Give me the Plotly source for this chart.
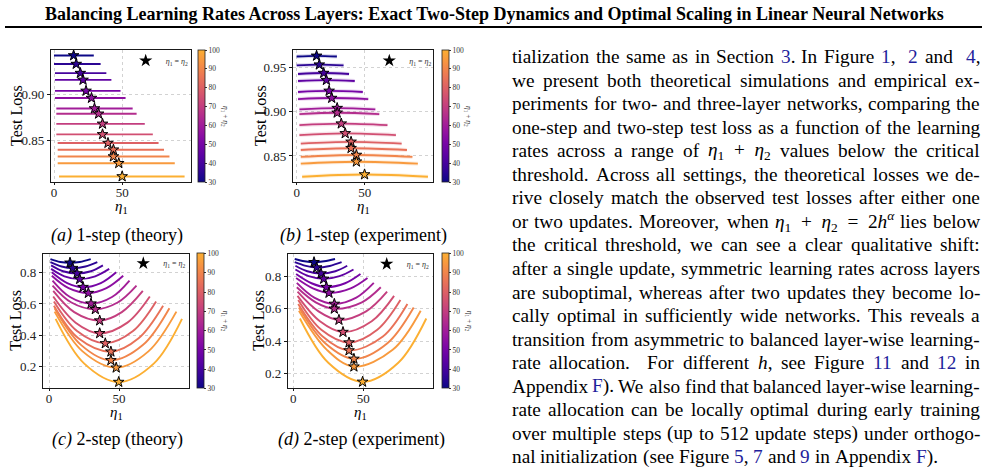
import plotly.graph_objects as go
from plotly.colors import sample_colorscale
import re

FIG_W, FIG_H = 988, 468
SERIF = "Liberation Serif, Times New Roman, Times, serif"
LINK = "#1f1f9c"

# ---------------- data ----------------
SUMS = [30, 35, 40, 45, 50, 55, 60, 65, 70, 75, 80, 85, 90, 95, 100]
CBAR_TICKS = [30, 40, 50, 60, 70, 80, 90, 100]
X_TICKS = [0, 50]

# (a) 1-step (theory): flat lines
A_ETA_START = [0, 0, 0.7, 0.7, 0.7, 0.7, 1.7, 1.7, 1.7, 1.7, 2.7, 2.7, 2.7, 2.7, 3.7]
A_ETA_END = [29.2, 34.2, 38.4, 42.1, 48.8, 52.5, 57.7, 60.6, 66.6, 72.5, 76.7, 80.7, 84.7, 88.6, 95.8]
A_LOSS = [0.9421, 0.9328, 0.9230, 0.9156, 0.9037, 0.8960, 0.8846, 0.8789, 0.8680, 0.8566,
          0.8472, 0.8400, 0.8326, 0.8253, 0.8110]
A_STAR_ETA = [14.4, 16.3, 19.3, 21.3, 23.5, 27.5, 29.7, 32.7, 35.6, 35.6, 39.6, 43.6, 43.6, 47.5, 50.0]
A_YTICKS = [0.85, 0.90]
A_YTEXT = ["0.85", "0.90"]

# (b) 1-step (experiment): slight arcs
B_ETA_START = [0, 0, 1, 1, 1, 1, 2, 2, 2, 2, 3, 3, 3, 3, 4]
B_ETA_END = [29.5, 34.4, 38.4, 42.6, 48.5, 52.5, 57.7, 60.6, 66.6, 72.8, 77.0, 80.9, 84.9, 88.9, 96.3]
B_LOSS_END = [0.9626, 0.9526, 0.9429, 0.9349, 0.9225, 0.9144, 0.9027, 0.8974, 0.8849, 0.8736,
              0.8640, 0.8568, 0.8489, 0.8413, 0.8265]
B_STAR_ETA = [14.6, 16.6, 19.8, 21.8, 23.8, 25.7, 29.7, 29.7, 32.7, 35.6, 39.9, 39.9, 43.8, 43.8, 49.8]
B_STAR_LOSS = [0.9634, 0.9534, 0.9439, 0.9359, 0.9237, 0.9156, 0.9042, 0.8989, 0.8866, 0.8756,
               0.8660, 0.8588, 0.8511, 0.8435, 0.8290]
B_YTICKS = [0.85, 0.90, 0.95]
B_YTEXT = ["0.85", "0.90", "0.95"]

# (c) 2-step (theory): U curves
C_ETA_START = [1, 1, 1.5, 1.5, 2, 2, 2.5, 2.5, 3, 3, 3.5, 3.5, 4, 4, 4.7]
C_ETA_Q1 = [8, 9, 10, 11, 13, 14, 15, 16, 18, 19, 20, 21, 23, 24, 25]
C_ETA_Q3 = [22, 26, 30, 33, 37, 41, 45, 49, 52, 56, 60, 64, 67, 71, 75]
C_ETA_END = [29.8, 34.5, 38.5, 43, 48, 53, 57.5, 62.5, 67, 72, 76.5, 81.5, 86, 91, 95]
C_LOSS_END = [0.885, 0.866, 0.845, 0.823, 0.802, 0.779, 0.749, 0.717, 0.683, 0.647,
              0.615, 0.588, 0.573, 0.551, 0.505]
C_LOSS_Q = [0.867, 0.838, 0.808, 0.776, 0.733, 0.700, 0.644, 0.609, 0.548, 0.481,
            0.427, 0.381, 0.338, 0.298, 0.222]
C_STAR_ETA = [15.0, 16.9, 20.0, 21.9, 24.3, 28.1, 30.0, 33.1, 36.2, 36.2, 40.2, 44.2, 44.2, 48.0, 49.8]
C_STAR_LOSS = [0.862, 0.828, 0.794, 0.758, 0.707, 0.669, 0.602, 0.566, 0.494, 0.413,
               0.349, 0.296, 0.241, 0.194, 0.103]
C_YTICKS = [0.2, 0.4, 0.6, 0.8]
C_YTEXT = ["0.2", "0.4", "0.6", "0.8"]

# (d) 2-step (experiment): U curves
D_ETA_START = [1, 1, 1.5, 1.5, 2, 2, 2.5, 2.5, 3, 3, 3.5, 3.5, 4, 4, 4.7]
D_ETA_Q1 = [8, 9, 10, 11, 13, 14, 15, 16, 18, 19, 20, 21, 23, 24, 25]
D_ETA_Q3 = [22, 26, 30, 33, 37, 41, 45, 49, 52, 56, 60, 64, 67, 71, 75]
D_ETA_END = [29.8, 34.5, 38.5, 43, 48, 53, 57.5, 62.5, 67, 72, 76.5, 81.5, 86, 91, 95]
D_LOSS_END = [0.908, 0.888, 0.866, 0.843, 0.815, 0.790, 0.760, 0.733, 0.706, 0.680,
              0.654, 0.629, 0.608, 0.588, 0.540]
D_LOSS_Q = [0.894, 0.865, 0.832, 0.802, 0.758, 0.726, 0.669, 0.640, 0.584, 0.523,
            0.470, 0.428, 0.385, 0.346, 0.266]
D_STAR_ETA = [14.8, 16.7, 19.8, 21.7, 23.6, 25.5, 29.3, 29.3, 32.6, 35.5, 39.8, 39.8, 43.3, 43.3, 49.5]
D_STAR_LOSS = [0.888, 0.855, 0.818, 0.785, 0.734, 0.698, 0.630, 0.600, 0.531, 0.456,
               0.391, 0.342, 0.290, 0.242, 0.148]
CD_YTICKS = [0.2, 0.4, 0.6, 0.8]

TITLE = ("Balancing Learning Rates Across Layers: Exact Two-Step Dynamics "
         "and Optimal Scaling in Linear Neural Networks")

BODY_LINES = [
    "tialization the same as in Section [3]. In Figure [1],  [2] and  [4],",
    "we present both theoretical simulations and empirical ex-",
    "periments for two- and three-layer networks, comparing the",
    "one-step and two-step test loss as a function of the learning",
    "rates across a range of $E$ values below the critical",
    "threshold. Across all settings, the theoretical losses we de-",
    "rive closely match the observed test losses after either one",
    "or two updates. Moreover, when $H$ lies below",
    "the critical threshold, we can see a clear qualitative shift:",
    "after a single update, symmetric learning rates across layers",
    "are suboptimal, whereas after two updates they become lo-",
    "cally optimal in sufficiently wide networks. This reveals a",
    "transition from asymmetric to balanced layer-wise learning-",
    "rate allocation.  For different $h$, see Figure [11] and [12] in",
    "Appendix [F]). We also find that balanced layer-wise learning-",
    "rate allocation can be locally optimal during early training",
    "over multiple steps (up to 512 update steps) under orthogo-",
    "nal initialization (see Figure [5], [7] and [9] in Appendix [F]).",
]

# ---------------- helpers ----------------
def fx(px):
    return px / FIG_W


def fy(py):
    return 1 - py / FIG_H


PLASMA_CUT = 0.82
_samples = sample_colorscale("Plasma", [PLASMA_CUT * i / 10 for i in range(11)])
CSCALE = [[i / 10, c] for i, c in enumerate(_samples)]


def sum_color(s):
    return sample_colorscale(CSCALE, [(s - 30) / 70])[0]


fig = go.Figure()
annotations = []
layout = {}


def axis_style(xaxis=False):
    d = dict(showline=True, mirror=True, linecolor="#1a1a1a", linewidth=1.2,
             ticks="outside", ticklen=3 if not xaxis else 2, tickwidth=1, tickcolor="#1a1a1a",
             showgrid=True, gridcolor="#d2d2d2", griddash="dot", gridwidth=0.8,
             zeroline=False, tickfont=dict(family=SERIF, size=13, color="#222"),
             fixedrange=True)
    if xaxis:
        d["ticklabelstandoff"] = -4
    return d


def text(t, px, py, size, xanchor="center", yanchor="middle", angle=0, color="black"):
    annotations.append(dict(text=t, x=fx(px), y=fy(py), xref="paper", yref="paper",
                            showarrow=False, xanchor=xanchor, yanchor=yanchor,
                            textangle=angle, borderpad=0,
                            font=dict(family=SERIF, size=size, color=color)))


PANELS = [
    dict(n=1, box=(51, 50, 191, 182), xr=[-2.2, 100.5], yr=[0.805, 0.948],
         yt=A_YTICKS, ytt=A_YTEXT, cbx=198, leg=(146.7, 60.7), ylab=16, cblab=225,
         cap="<i>(a)</i> 1-step (theory)", capxy=(117, 235)),
    dict(n=2, box=(293, 50, 433, 182), xr=[-2.7, 100.0], yr=[0.8205, 0.970],
         yt=B_YTICKS, ytt=B_YTEXT, cbx=442, leg=(390.3, 60.7), ylab=260, cblab=468,
         cap="<i>(b)</i> 1-step (experiment)", capxy=(363, 235)),
    dict(n=3, box=(43, 253.5, 189, 388), xr=[-4.3, 100.0], yr=[0.065, 0.921],
         yt=C_YTICKS, ytt=C_YTEXT, cbx=197, leg=(144.3, 263.3), ylab=16, cblab=225,
         cap="<i>(c)</i> 2-step (theory)", capxy=(117, 439)),
    dict(n=4, box=(288, 253.5, 433, 388), xr=[-3.8, 99.8], yr=[0.110, 0.942],
         yt=CD_YTICKS, ytt=C_YTEXT, cbx=442, leg=(387.7, 264), ylab=259, cblab=469,
         cap="<i>(d)</i> 2-step (experiment)", capxy=(361, 439)),
]

for P in PANELS:
    n = P["n"]
    sfx = "" if n == 1 else str(n)
    x0, y0, x1, y1 = P["box"]
    xa = dict(axis_style(True), domain=[fx(x0), fx(x1)], range=P["xr"], anchor="y" + sfx,
              tickvals=X_TICKS, ticktext=[str(v) for v in X_TICKS])
    ya = dict(axis_style(), domain=[fy(y1), fy(y0)], range=P["yr"], anchor="x" + sfx,
              tickvals=P["yt"], ticktext=P["ytt"])
    layout["xaxis" + sfx] = xa
    layout["yaxis" + sfx] = ya

    # axis titles
    text("Test Loss", P["ylab"], (y0 + y1) / 2, 16, angle=-90)
    text("<i>η</i><sub>1</sub>", (x0 + x1) / 2, y1 + 25, 15)
    # caption
    text(P["cap"], P["capxy"][0], P["capxy"][1], 18)
    # colorbar label
    text("<i>η</i><sub>1</sub> + <i>η</i><sub>2</sub>", P["cblab"], (y0 + y1) / 2, 7.5,
         angle=90, color="#333")

    # legend placement
    lname = "legend" + sfx
    layout[lname] = dict(x=fx(P["leg"][0] - 21), y=fy(P["leg"][1]), xanchor="left",
                         yanchor="middle", bgcolor="rgba(0,0,0,0)", borderwidth=0,
                         font=dict(family=SERIF, size=8, color="#333"),
                         itemwidth=30, tracegroupgap=0)

XA = lambda n: "x" + ("" if n == 1 else str(n))
YA = lambda n: "y" + ("" if n == 1 else str(n))


def add_line(n, xs, ys, color, spline=True, halo=False):
    if halo:
        fig.add_trace(go.Scatter(x=xs, y=ys, mode="lines", xaxis=XA(n), yaxis=YA(n),
                                 line=dict(color=color, width=4,
                                           shape="spline" if spline else "linear"),
                                 opacity=0.15, showlegend=False, hoverinfo="skip"))
    fig.add_trace(go.Scatter(x=xs, y=ys, mode="lines", xaxis=XA(n), yaxis=YA(n),
                             line=dict(color=color, width=1.9,
                                       shape="spline" if spline else "linear"),
                             showlegend=False, hoverinfo="skip"))


def add_stars(n, xs, ys):
    P = PANELS[n - 1]
    x0, y0, x1, y1 = P["box"]
    fig.add_trace(go.Scatter(
        x=xs, y=ys, mode="markers", xaxis=XA(n), yaxis=YA(n), showlegend=False,
        hoverinfo="skip",
        marker=dict(symbol="star", size=8, color=SUMS, colorscale=CSCALE, cmin=30,
                    cmax=100, line=dict(color="black", width=1), showscale=True,
                    colorbar=dict(x=fx(P["cbx"]), xanchor="left", y=fy(y0),
                                  yanchor="top", len=(y1 - y0) / FIG_H, lenmode="fraction",
                                  thickness=7, thicknessmode="pixels", outlinewidth=0.8,
                                  outlinecolor="#222", tickmode="array",
                                  tickvals=CBAR_TICKS, ticks="outside", ticklen=2,
                                  tickcolor="#333", xpad=0, ypad=0,
                                  tickfont=dict(family=SERIF, size=7.5, color="#333")))))
    fig.add_trace(go.Scatter(
        x=[None], y=[None], mode="markers", xaxis=XA(n), yaxis=YA(n),
        name="<i>η</i><sub>1</sub> = <i>η</i><sub>2</sub>",
        legend="legend" + ("" if n == 1 else str(n)), showlegend=True, hoverinfo="skip",
        marker=dict(symbol="star", size=10, color="black")))


for i, s in enumerate(SUMS):
    c = sum_color(s)
    add_line(1, [A_ETA_START[i], A_ETA_END[i]], [A_LOSS[i], A_LOSS[i]], c, spline=False)
    add_line(2, [B_ETA_START[i], B_STAR_ETA[i], B_ETA_END[i]],
             [B_LOSS_END[i], B_STAR_LOSS[i], B_LOSS_END[i]], c, halo=True)
    add_line(3, [C_ETA_START[i], C_ETA_Q1[i], C_STAR_ETA[i], C_ETA_Q3[i], C_ETA_END[i]],
             [C_LOSS_END[i], C_LOSS_Q[i], C_STAR_LOSS[i], C_LOSS_Q[i], C_LOSS_END[i]], c)
    add_line(4, [D_ETA_START[i], D_ETA_Q1[i], D_STAR_ETA[i], D_ETA_Q3[i], D_ETA_END[i]],
             [D_LOSS_END[i], D_LOSS_Q[i], D_STAR_LOSS[i], D_LOSS_Q[i], D_LOSS_END[i]], c)

add_stars(1, A_STAR_ETA, A_LOSS)
add_stars(2, B_STAR_ETA, B_STAR_LOSS)
add_stars(3, C_STAR_ETA, C_STAR_LOSS)
add_stars(4, D_STAR_ETA, D_STAR_LOSS)

# ---------------- title + rule ----------------
text("<b>" + TITLE + "</b>", 494, 14, 18)
shapes = [dict(type="line", xref="paper", yref="paper", x0=fx(5), x1=fx(982),
               y0=fy(27), y1=fy(27), line=dict(color="black", width=2))]

# ---------------- justified body text ----------------
TIMES = dict(zip("abcdefghijklmnopqrstuvwxyz",
                 [444, 500, 444, 500, 444, 333, 500, 500, 278, 278, 500, 278, 778, 500, 500,
                  500, 500, 333, 389, 278, 500, 500, 722, 500, 500, 444]))
TIMES.update(zip("ABCDEFGHIJKLMNOPQRSTUVWXYZ",
                 [722, 667, 667, 722, 611, 556, 722, 722, 333, 389, 722, 611, 889, 722, 722,
                  556, 722, 667, 556, 611, 722, 722, 944, 722, 722, 611]))
TIMES.update({d: 500 for d in "0123456789"})
TIMES.update({" ": 250, ".": 250, ",": 250, "-": 333, "(": 333, ")": 333, ":": 278, ";": 278})

BODY_SIZE = 19.3
TEXT_L, TEXT_R = 511, 979
LINE0, LEAD = 56.5, 23.55

MATH = {
    "$E$": ("<i>η</i><sub>1</sub>\u2002+\u2002<i>η</i><sub>2</sub>", 64),
    "$H$": ("<i>η</i><sub>1</sub>\u2002+\u2002<i>η</i><sub>2</sub>\u2002=\u20022<i>h</i>"
            "<sup><i>α</i></sup>", 119),
    "$h$": ("<i>h</i>", 9.7),
}


def tw(s):
    return sum(TIMES.get(ch, 500) for ch in s) * BODY_SIZE / 1000


def token(tok):
    m = re.match(r"^(\$\w\$)(.*)$", tok)
    if m:
        html, w = MATH[m.group(1)]
        return html + m.group(2), w + tw(m.group(2))
    plain = tok.replace("[", "").replace("]", "")
    html = re.sub(r"\[([^\]]+)\]", lambda mm: f'<span style="color:{LINK}">{mm.group(1)}</span>', tok)
    return html, tw(plain)


for k, line in enumerate(BODY_LINES):
    parts = line.split(" ")
    words, gaps, cnt = [], [], 0
    for p in parts:
        if p == "":
            cnt += 1
            continue
        if words:
            gaps.append(cnt)
        words.append(token(p))
        cnt = 1
    total = sum(w for _, w in words)
    last = k == len(BODY_LINES) - 1
    unit = tw(" ") if last else (TEXT_R - TEXT_L - total) / max(1, sum(gaps))
    x = TEXT_L
    yc = LINE0 + LEAD * k
    for j, (html, w) in enumerate(words):
        text(html, x, yc, BODY_SIZE, xanchor="left")
        x += w
        if j < len(gaps):
            x += gaps[j] * unit

fig.update_layout(**layout)
fig.update_layout(width=FIG_W, height=FIG_H, margin=dict(l=0, r=0, t=0, b=0),
                  paper_bgcolor="white", plot_bgcolor="white",
                  annotations=annotations, shapes=shapes, showlegend=True)
fig.write_html("out.html")
